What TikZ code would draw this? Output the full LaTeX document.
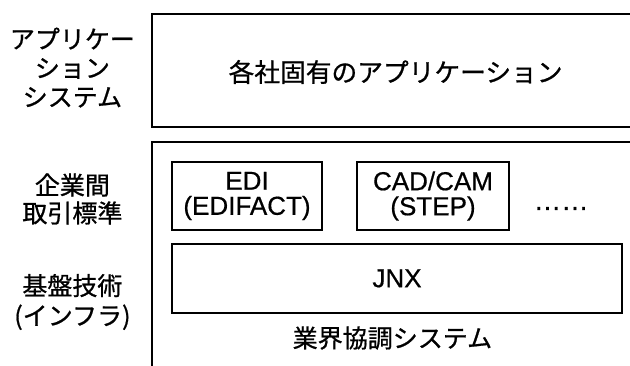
\documentclass[tikz,border=0pt]{standalone}
\usepackage{fontspec}
\newfontfamily\jpfont[FakeBold=0.8]{Noto Sans CJK JP}
\newfontfamily\latinfont[FakeBold=0.6]{Liberation Sans}
\usepackage{tikz}

\begin{document}
\begin{tikzpicture}[
    frame/.style={line width=1.5pt},
    stdbox/.style={draw, line width=1.3pt, inner sep=0pt, align=center,
      font=\latinfont\fontsize{18.5}{17.8}\selectfont},
    layer/.style={align=center, font=\jpfont\fontsize{17.8}{20.6}\selectfont}
  ]
  \useasboundingbox (0,0) rectangle (15.75,9.15);
  % application layer, open to the right
  \draw[frame] (15.75,8.8) -- (3.81,8.8) -- (3.81,5.975) -- (15.75,5.975);
  \node[layer, font=\jpfont\fontsize{18.3}{20}\selectfont] (apps) at (9.89,7.35) {各社固有のアプリケーション};
  % industry-wide system, open to the right and below
  \draw[frame] (15.75,5.6) -- (3.81,5.6) -- (3.81,0);
  \node[stdbox, minimum width=3.75cm, minimum height=1.7cm] (edi) at (6.175,4.25) {EDI\\(EDIFACT)};
  \node[stdbox, minimum width=3.8cm, minimum height=1.7cm] (cad) at (10.825,4.25) {CAD/CAM\\(STEP)};
  \node[anchor=base, font=\latinfont\fontsize{19.5}{20}\selectfont] (more) at (14.03,3.9) {……};
  \node[stdbox, minimum width=11.25cm, minimum height=1.725cm] (jnx) at (9.925,2.19) {JNX};
  \node[layer] (coop) at (9.81,0.7) {業界協調システム};
  % layer names on the left
  \node[layer] (lapp) at (1.81,7.46) {アプリケー\\ション\\システム};
  \node[layer, font=\jpfont\fontsize{17.8}{19.9}\selectfont] (lstd) at (1.81,4.175) {企業間\\取引標準};
  \node[layer, font=\jpfont\fontsize{17.8}{21.3}\selectfont] (linfra) at (1.81,1.6) {基盤技術\\(インフラ)};
\end{tikzpicture}
\end{document}
